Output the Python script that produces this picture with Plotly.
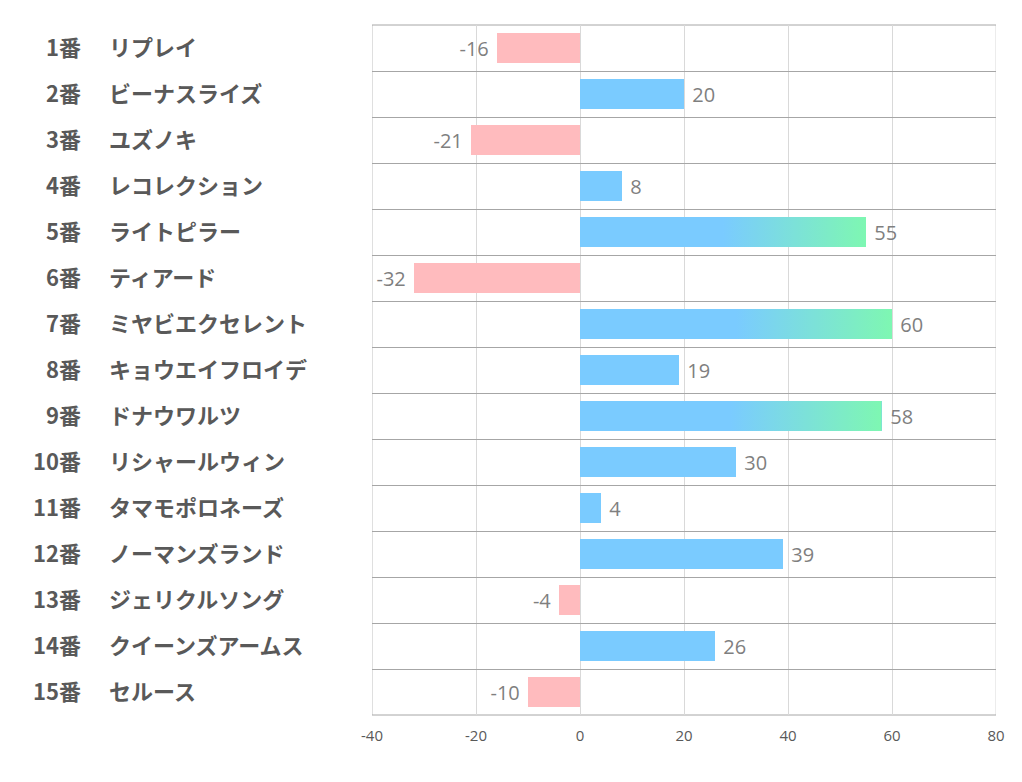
import plotly.graph_objects as go

numbers = ["1番", "2番", "3番", "4番", "5番", "6番", "7番", "8番", "9番", "10番",
           "11番", "12番", "13番", "14番", "15番"]
names = ["リプレイ", "ビーナスライズ", "ユズノキ", "レコレクション", "ライトピラー",
         "ティアード", "ミヤビエクセレント", "キョウエイフロイデ", "ドナウワルツ",
         "リシャールウィン", "タマモポロネーズ", "ノーマンズランド", "ジェリクルソング",
         "クイーンズアームス", "セルース"]
values = [-16, 20, -21, 8, 55, -32, 60, 19, 58, 30, 4, 39, -4, 26, -10]
x_ticks = [-40, -20, 0, 20, 40, 60, 80]
x_tick_labels = ["-40", "-20", "0", "20", "40", "60", "80"]

BLUE = "#7acbff"
PINK = "#ffbbbe"
GREEN = "#7ef7b2"
GRAD_MIN = 50
BAR_W = 0.65

rows = list(range(1, len(values) + 1))
colors = [BLUE if v >= 0 else PINK for v in values]
labels = [(" " + str(v)) if v >= 0 else (str(v) + " ") for v in values]

fig = go.Figure()
fig.add_trace(go.Bar(
    x=values, y=rows, orientation="h", width=BAR_W,
    marker=dict(color=colors, line=dict(width=0)),
    text=labels, textposition="outside",
    textfont=dict(color="#7f7f7f", size=20, family="Open Sans"),
    cliponaxis=False, hoverinfo="skip", showlegend=False,
))

# gradient overlay for the longest bars
for r, v in zip(rows, values):
    if v >= GRAD_MIN:
        h = BAR_W / 2
        fig.add_trace(go.Scatter(
            x=[0, v, v, 0, 0], y=[r - h, r - h, r + h, r + h, r - h],
            mode="lines", line=dict(width=0), fill="toself",
            fillgradient=dict(type="horizontal",
                              colorscale=[[0, BLUE], [0.5, BLUE], [1, GREEN]]),
            hoverinfo="skip", showlegend=False,
        ))

# page body has an 8px default margin
OFF = 8
L, T = 372 - OFF, 25 - OFF
PW, PH = 624, 690
W, H = 1022 - OFF, 782 - OFF
R = W - L - PW
B = H - T - PH

annotations = []
for r, num, name in zip(rows, numbers, names):
    annotations.append(dict(
        x=(83 - OFF - L) / PW, y=r, xref="paper", yref="y", text=f"<b>{num}</b>",
        showarrow=False, xanchor="right", yanchor="middle", yshift=2,
        font=dict(size=22, color="#595959", family="Noto Sans CJK JP")))
    annotations.append(dict(
        x=(107 - OFF - L) / PW, y=r, xref="paper", yref="y", text=f"<b>{name}</b>",
        showarrow=False, xanchor="left", yanchor="middle", yshift=2,
        font=dict(size=22, color="#595959", family="Noto Sans CJK JP")))

seps = [r + 0.5 for r in range(0, len(values) + 1)]

fig.update_layout(
    width=W, height=H,
    margin=dict(l=L, r=R, t=T, b=B),
    plot_bgcolor="white", paper_bgcolor="white",
    annotations=annotations,
    bargap=0,
    xaxis=dict(range=[-40, 80], tickvals=x_ticks, ticktext=x_tick_labels,
               showgrid=True, gridcolor="#d9d9d9", gridwidth=1, zeroline=False,
               showline=False, ticks="", ticklen=0, ticklabelstandoff=10,
               tickfont=dict(size=15, color="#595959", family="Open Sans"),
               fixedrange=True),
    yaxis=dict(range=[len(values) + 0.5, 0.5], tickvals=seps,
               ticktext=[""] * len(seps), showgrid=True,
               gridcolor="#a6a6a6", gridwidth=1, zeroline=False,
               showline=False, ticks="", fixedrange=True),
    shapes=[
        dict(type="line", xref="x", yref="paper", x0=-40, x1=-40, y0=0, y1=1,
             line=dict(color="#bfbfbf", width=1), layer="below"),
        dict(type="line", xref="x", yref="paper", x0=80, x1=80, y0=0, y1=1,
             line=dict(color="#d9d9d9", width=1), layer="below"),
        dict(type="line", xref="paper", yref="paper", x0=0, x1=1, y0=1, y1=1,
             line=dict(color="#a6a6a6", width=1), layer="below"),
        dict(type="line", xref="paper", yref="paper", x0=0, x1=1, y0=0, y1=0,
             line=dict(color="#a6a6a6", width=1), layer="below"),
    ],
)

fig.write_html("out.html")
